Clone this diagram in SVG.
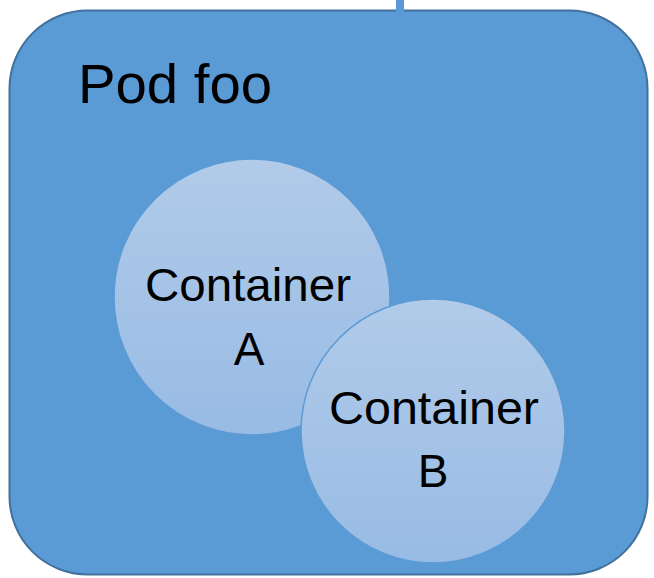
<svg xmlns="http://www.w3.org/2000/svg" width="654" height="578" viewBox="0 0 654 578">
<defs>
<linearGradient id="cg" x1="0" y1="0" x2="0" y2="1">
<stop offset="0" stop-color="#b1cbe9"/>
<stop offset="1" stop-color="#98bbe4"/>
</linearGradient>
<style>
.t{font-family:"Liberation Sans",Arial,sans-serif;fill:#000;}
.c{fill:url(#cg);stroke:#5b9bd5;stroke-width:1.5;}
</style>
</defs>
<g id="connectors">
<rect x="396" y="0" width="8" height="12" fill="#5b9bd5"/>
</g>
<g id="pod">
<rect x="9.5" y="10.5" width="638" height="564" rx="78" ry="78" fill="#5b9bd5" stroke="#41719c" stroke-width="2"/>
<rect x="396" y="8" width="8" height="5" fill="#5b9bd5"/>
<text class="t" x="78" y="103" font-size="55" textLength="194" lengthAdjust="spacingAndGlyphs">Pod foo</text>
</g>
<g id="containerA">
<circle class="c" cx="252" cy="297" r="138"/>
<text class="t" x="145" y="301" font-size="46" textLength="206" lengthAdjust="spacingAndGlyphs">Container</text>
<text class="t" x="249" y="365" font-size="46" text-anchor="middle">A</text>
</g>
<g id="containerB">
<circle class="c" cx="433" cy="431" r="132"/>
<text class="t" x="329" y="424" font-size="46" textLength="210" lengthAdjust="spacingAndGlyphs">Container</text>
<text class="t" x="433" y="487" font-size="46" text-anchor="middle">B</text>
</g>
</svg>
